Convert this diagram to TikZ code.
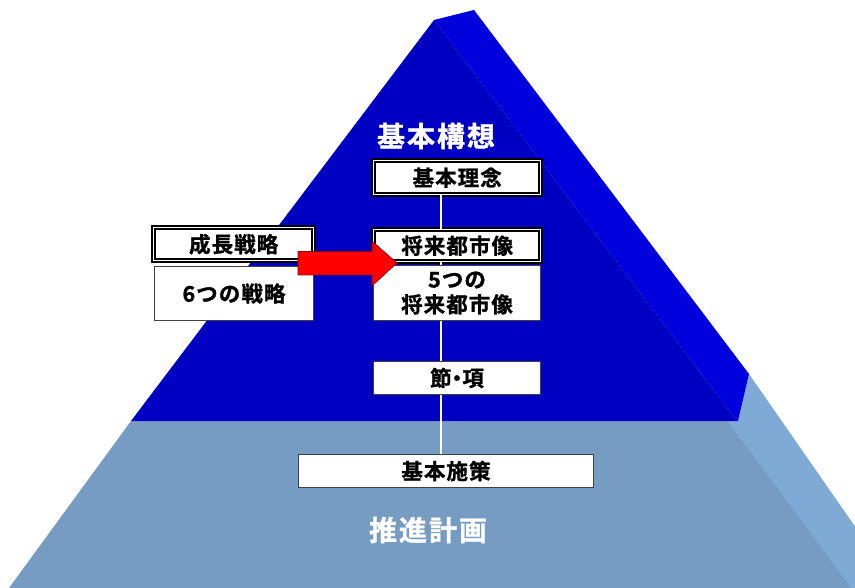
\documentclass[tikz,border=0pt]{standalone}
\usepackage{fontspec}
\usetikzlibrary{calc}
\setmainfont{Noto Sans CJK JP}[BoldFont={Noto Sans CJK JP Bold}, BoldFeatures={FakeBold=1.2}]
\definecolor{frontUp}{HTML}{0000C2}
\definecolor{sideUp}{HTML}{0000DC}
\definecolor{frontLow}{HTML}{769CC4}
\definecolor{sideLow}{HTML}{7FAAD6}
\definecolor{arrowRed}{HTML}{FF0000}
\definecolor{arrowEdge}{HTML}{8B0000}
\definecolor{boxEdge}{HTML}{404040}
\tikzset{
  boxtext/.style={font=\bfseries\fontsize{21.5}{25}\selectfont\addfontfeature{LetterSpace=5}},
  plainbox/.style={boxtext, draw=boxEdge, line width=1pt, fill=white, inner sep=0pt, align=center, anchor=north west},
  framebox/.style={boxtext, fill=white, inner sep=0pt, align=center, anchor=north west,
    postaction={draw=black, line width=4.5pt},
    postaction={draw=white, line width=0.8pt}},
  titletext/.style={text=white, font=\bfseries\fontsize{28}{30}\selectfont\addfontfeature{LetterSpace=7}},
  connector/.style={draw=white, line width=2pt}
}
\begin{document}
\begin{tikzpicture}[x=1pt,y=-1pt]
\useasboundingbox (0,0) rectangle (855,588);
\begin{scope}
\clip (0,0) rectangle (855,588);
% lower part
\fill[sideLow] (728,421) -- (738,421) -- (749,374) -- (870,548) -- (870,588) -- (850,588) -- cycle;
\fill[frontLow] (131,421) -- (9,588) -- (851,588) -- (728,421) -- cycle;
% upper part
\fill[sideUp] (434,20) -- (474,10) -- (749,374) -- (738,421) -- (737,421) -- cycle;
\fill[frontUp] (434,20) -- (131,421) -- (737,421) -- cycle;
\end{scope}

\coordinate (lx) at (441,0);

% titles
\node[titletext] (kousou) at (436,136) {基本構想};
\node[titletext] (suishin) at (428,530) {推進計画};

% boxes
\node[framebox, minimum width=167pt, minimum height=34pt] (rinen) at (373.5,160.5) {基本理念};
\node[framebox, minimum width=167pt, minimum height=32pt] (toshizou) at (373.5,229.5) {将来都市像};
\node[framebox, minimum width=160pt, minimum height=33pt] (seichou) at (153.5,227.5) {成長戦略};
\node[plainbox, minimum width=159pt, minimum height=54pt] (senryaku) at (154,266) {6つの戦略};
\node[plainbox, minimum width=167pt, minimum height=55pt] (itsutsu) at (373,265) {5つの\\将来都市像};
\node[plainbox, minimum width=167pt, minimum height=33pt, font=\bfseries\fontsize{21.5}{25}\selectfont\addfontfeature{RawFeature=+palt}] (setsu) at (373,361) {節・項};
\node[plainbox, minimum width=295pt, minimum height=33pt] (shisaku) at (298,454) {基本施策};

% vertical connector segments between boxes
\draw[connector] (rinen.south -| lx) -- (toshizou.north -| lx);
\draw[connector] (toshizou.south -| lx) -- (itsutsu.north -| lx);
\draw[connector] (itsutsu.south -| lx) -- (setsu.north -| lx);
\draw[connector] (setsu.south -| lx) -- (shisaku.north -| lx);

% red arrow
\coordinate (aS) at (298,263);
\coordinate (aT) at (397,263);
\draw[fill=arrowRed, draw=arrowEdge, line width=0.6pt, line join=miter]
  ($(aS)+(0,-11.5)$) -- ($(aT)+(-25,-11.5)$) -- ($(aT)+(-25,-22)$) -- (aT)
  -- ($(aT)+(-25,23)$) -- ($(aT)+(-25,12)$) -- ($(aS)+(0,12)$) -- cycle;
\end{tikzpicture}
\end{document}
